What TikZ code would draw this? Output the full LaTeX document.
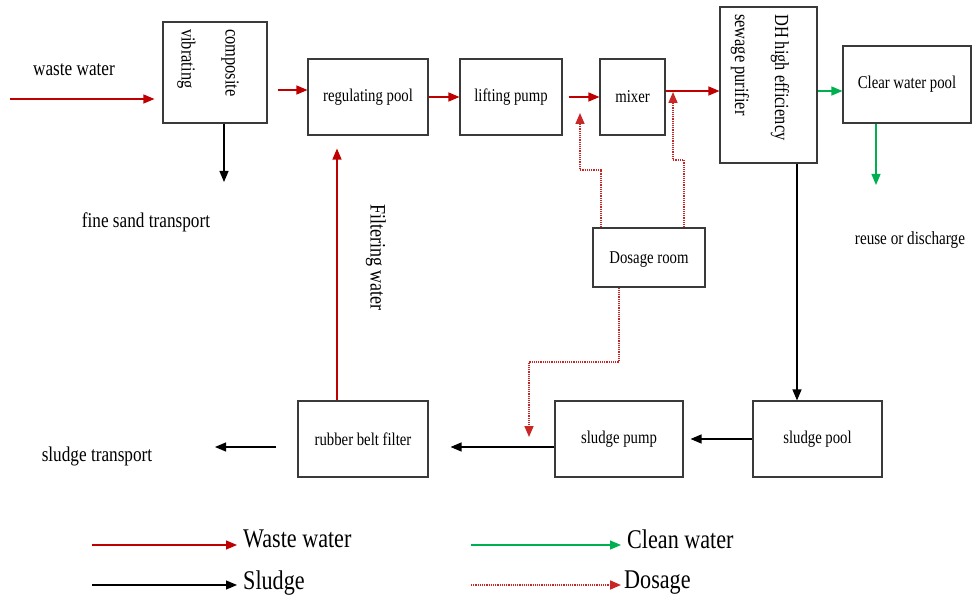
\documentclass[tikz,border=0pt]{standalone}
\usepackage{fontspec}
\setmainfont{Liberation Serif}[FakeStretch=0.82]
\usepackage{xcolor}
\usetikzlibrary{arrows.meta,calc,positioning}
\definecolor{flowred}{HTML}{C00000}
\definecolor{flowgreen}{HTML}{00B050}
\definecolor{boxgray}{HTML}{3A3A3A}
\newcommand{\boxfont}{\fontsize{18}{22}\selectfont}
\newcommand{\labelfont}{\fontsize{21}{25}\selectfont}
\newcommand{\legendfont}{\fontsize{27}{31}\selectfont}
\tikzset{
  unitbox/.style={draw=boxgray, line width=1.1pt, inner sep=2pt, font=\boxfont},
  plainlabel/.style={inner sep=0pt, font=\labelfont},
  legendlabel/.style={inner sep=0pt, anchor=west, font=\legendfont},
  sidetext/.style={inner sep=0pt, rotate=-90, anchor=west, align=left, font=\fontsize{20}{24}\selectfont},
  wasteflow/.style={flowred, line width=1.2pt, -{Triangle[length=11pt,width=9pt]}},
  cleanflow/.style={flowgreen, line width=1.2pt, -{Triangle[length=11pt,width=9pt]}},
  sludgeflow/.style={black, line width=1.2pt, -{Triangle[length=11pt,width=9pt]}},
  dosageflow/.style={flowred!85!white, line width=1.6pt, dash pattern=on 1.2pt off 1pt, -{Triangle[length=11pt,width=9pt]}}
}

\begin{document}
\begin{tikzpicture}[x=1pt,y=-1pt]
  \useasboundingbox (0,0) rectangle (972,599);
  % process units
  \node[unitbox, minimum width=104pt, minimum height=101pt] (vib) at (215,72.5) {};
  \node[sidetext] (vibtext) at (208,29) {composite\\[20pt]vibrating};
  \node[unitbox, minimum width=120pt, minimum height=76pt] (regpool) at (368,97) {regulating pool};
  \node[unitbox, minimum width=102pt, minimum height=76pt] (liftpump) at (511,97) {lifting pump};
  \node[unitbox, minimum width=65pt, minimum height=76pt] (mixer) at (632.5,97) {mixer};
  \node[unitbox, minimum width=97pt, minimum height=156pt] (purifier) at (768.5,85) {};
  \node[sidetext] (purifiertext) at (760,14) {DH high efficiency\\[16pt]sewage purifier};
  \node[unitbox, minimum width=128pt, minimum height=77pt] (clearpool) at (907,84.5) {Clear water pool};
  \node[unitbox, minimum width=112pt, minimum height=59pt, text depth=-12pt] (dosage) at (649,257.5) {Dosage room};
  \node[unitbox, minimum width=130pt, minimum height=76pt] (beltfilter) at (363,439) {rubber belt filter};
  \node[unitbox, minimum width=128pt, minimum height=76pt] (sludgepump) at (619,439) {sludge pump};
  \node[unitbox, minimum width=129pt, minimum height=76pt] (sludgepool) at (817.5,439) {sludge pool\hspace{14pt}};

  % free labels
  \node[plainlabel] (wastelabel) at (74,70) {waste water};
  \node[plainlabel] (finesand) at (146,222) {fine sand transport};
  \node[plainlabel, font=\fontsize{18.5}{22}\selectfont] (reuse) at (910,240) {reuse or discharge};
  \node[plainlabel] (sludgetr) at (97,456) {sludge transport};
  \node[sidetext, font=\fontsize{22}{26}\selectfont] (filtlabel) at (376,204) {Filtering water};

  % waste water line
  \coordinate (wastein) at (10,99);
  \draw[wasteflow, shorten >=8pt] (wastein) -- (wastein -| vib.west);
  \draw[wasteflow, shorten <=10pt] ([yshift=7pt]regpool.west -| vib.east) -- ([yshift=7pt]regpool.west);
  \draw[wasteflow] (regpool.east) -- (liftpump.west);
  \draw[wasteflow, shorten <=6pt] (liftpump.east) -- (mixer.west);
  \draw[wasteflow] ([yshift=6pt]mixer.east) -- ([yshift=6pt]mixer.east -| purifier.west);
  \coordinate (filterrise) at (337,300);
  \draw[wasteflow, shorten >=13pt] (beltfilter.north -| filterrise) -- (regpool.south -| filterrise);

  % clean water
  \draw[cleanflow] ([yshift=-6.5pt]clearpool.west -| purifier.east) -- ([yshift=-6.5pt]clearpool.west);
  \coordinate (reusedrop) at (876,185);
  \draw[cleanflow] (clearpool.south -| reusedrop) -- (reusedrop);

  % sludge
  \coordinate (sanddrop) at (224,182);
  \draw[sludgeflow] (vib.south -| sanddrop) -- (sanddrop);
  \coordinate (sludgefall) at (797,300);
  \draw[sludgeflow] (purifier.south -| sludgefall) -- (sludgepool.north -| sludgefall);
  \draw[sludgeflow, shorten >=7pt] (sludgepool.west) -- (sludgepump.east);
  \draw[sludgeflow, shorten >=22pt] ([yshift=-8pt]sludgepump.west) -- ([yshift=-8pt]sludgepump.west -| beltfilter.east);
  \coordinate (sludgeout) at (215,447);
  \draw[sludgeflow, shorten <=21pt] (beltfilter.west |- sludgeout) -- (sludgeout);

  % dosage
  \coordinate (dosebendA) at (601,170);
  \coordinate (dosetipA) at (580,113);
  \draw[dosageflow] (dosage.north -| dosebendA) -- (dosebendA) -| (dosetipA);
  \coordinate (dosebendB) at (684,160);
  \coordinate (dosetipB) at (673,92);
  \draw[dosageflow] (dosage.north -| dosebendB) -- (dosebendB) -| (dosetipB);
  \coordinate (dosebendC) at (619,362);
  \coordinate (dosetipC) at (529,437);
  \draw[dosageflow] (dosage.south -| dosebendC) -- (dosebendC) -| (dosetipC);

  % key
  \node[legendlabel] (keywaste) at (243,539) {Waste water};
  \node[legendlabel] (keyclean) at (627,539) {Clean water};
  \node[legendlabel] (keysludge) at (243,583) {Sludge};
  \node[legendlabel] (keydosage) at (624,583) {Dosage};
  \coordinate (keywastestart) at (92,545);
  \coordinate (keycleanstart) at (471,545);
  \coordinate (keysludgestart) at (92,585);
  \coordinate (keydosagestart) at (471,585);
  \draw[wasteflow, shorten >=6pt] (keywastestart) -- (keywastestart -| keywaste.west);
  \draw[cleanflow, shorten >=6pt] (keycleanstart) -- (keycleanstart -| keyclean.west);
  \draw[sludgeflow, shorten >=6pt] (keysludgestart) -- (keysludgestart -| keysludge.west);
  \draw[dosageflow, shorten >=3pt] (keydosagestart) -- (keydosagestart -| keydosage.west);
\end{tikzpicture}
\end{document}
